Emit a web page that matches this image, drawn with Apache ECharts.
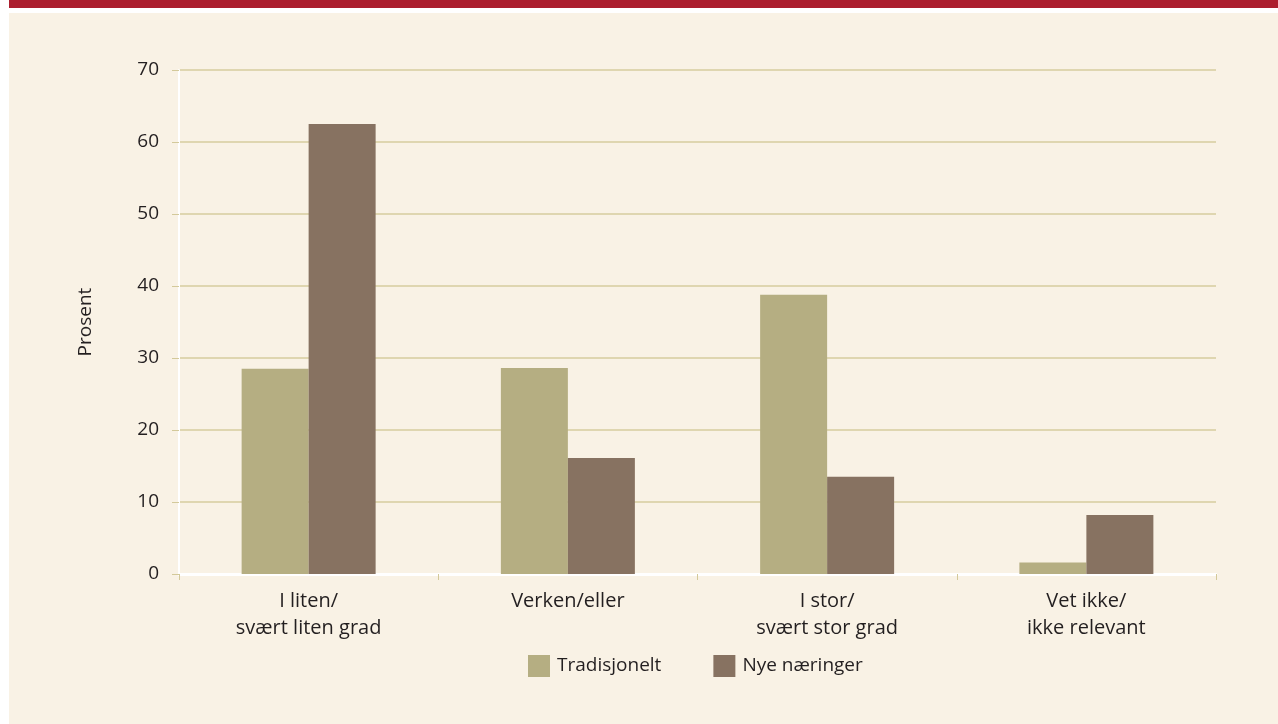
<!DOCTYPE html>
<html>
<head>
<meta charset="utf-8">
<script src="https://cdn.jsdelivr.net/npm/echarts@6/dist/echarts.min.js"></script>
<style>
html,body{margin:0;padding:0;background:#ffffff;}
#chart{width:1278px;height:724px;}
</style>
</head>
<body>
<div id="chart"></div>
<script>
const categories = ['I liten/\nsvært liten grad', 'Verken/eller', 'I stor/\nsvært stor grad', 'Vet ikke/\nikke relevant'];
const tradisjonelt = [28.5, 28.6, 38.8, 1.6];
const nyeNaeringer = [62.5, 16.1, 13.5, 8.2];
const seriesNames = ['Tradisjonelt', 'Nye næringer'];
const yTicks = {min: 0, max: 70, interval: 10};

const FONT = '"Open Sans", "Noto Sans", sans-serif';
const TXT = '#231f20';
const chart = echarts.init(document.getElementById('chart'), null, {renderer: 'canvas'});
chart.setOption({
  backgroundColor: '#ffffff',
  animation: false,
  textStyle: {fontFamily: FONT, color: TXT},
  graphic: [
    {type: 'rect', left: 9, top: 0, shape: {width: 1269, height: 8}, style: {fill: '#ac1e2e'}, z: -10},
    {type: 'rect', left: 9, top: 13, shape: {width: 1269, height: 711}, style: {fill: '#f9f2e5'}, z: -10}
  ],
  grid: {left: 179, right: 62, top: 70, bottom: 150, containLabel: false},
  legend: {
    left: 523, top: 650,
    itemWidth: 22, itemHeight: 22, itemGap: 52,
    icon: 'rect',
    textStyle: {fontFamily: FONT, fontSize: 19, color: TXT, padding: [0, 0, 0, 2]},
    data: seriesNames
  },
  xAxis: {
    type: 'category',
    data: categories,
    boundaryGap: true,
    axisLine: {show: true, lineStyle: {color: '#ffffff', width: 3}},
    axisTick: {show: true, length: 6, lineStyle: {color: '#d3c99a', width: 1}},
    axisLabel: {fontFamily: FONT, fontSize: 20, color: TXT, margin: 14, lineHeight: 27}
  },
  yAxis: {
    type: 'value',
    min: yTicks.min, max: yTicks.max, interval: yTicks.interval,
    name: 'Prosent',
    nameLocation: 'middle',
    nameRotate: 90,
    nameGap: 84,
    nameTextStyle: {fontFamily: FONT, fontSize: 19, color: TXT},
    axisLine: {show: true, lineStyle: {color: '#ffffff', width: 2}},
    axisTick: {show: true, length: 7, lineStyle: {color: '#d3c99a', width: 1}},
    axisLabel: {fontFamily: FONT, fontSize: 19, color: TXT, margin: 20},
    splitLine: {show: true, lineStyle: {color: '#d6cc9e', width: 1.5}}
  },
  series: [
    {name: seriesNames[0], type: 'bar', data: tradisjonelt, barWidth: 67, barGap: '0%', itemStyle: {color: '#b5ae82'}},
    {name: seriesNames[1], type: 'bar', data: nyeNaeringer, barWidth: 67, barGap: '0%', itemStyle: {color: '#877261'}}
  ]
});
</script>
</body>
</html>
